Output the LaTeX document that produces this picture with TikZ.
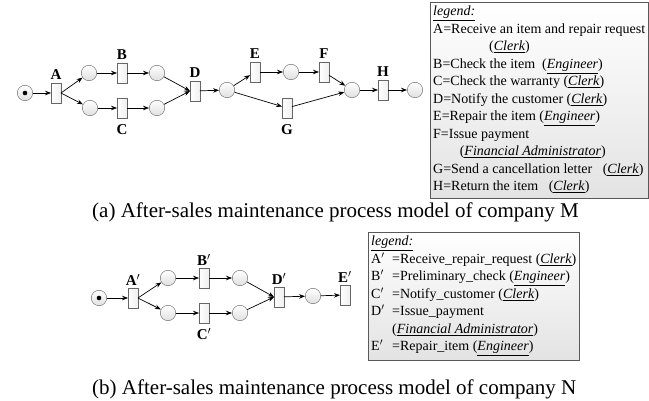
\documentclass[tikz,border=0pt]{standalone}
\usepackage{fontspec}
\setmainfont{Liberation Serif}
\usetikzlibrary{positioning,arrows.meta,shadows}
\newcommand{\role}[1]{\underline{\textit{#1}}}
\begin{document}
\begin{tikzpicture}[x=1pt,y=-1pt,
  place/.style={draw=gray!80!black, circle, minimum size=15.5pt, inner sep=0pt, top color=white, bottom color=gray!25},
  start/.style={place, path picture={\fill (path picture bounding box.center) circle (2.3pt);}},
  trans/.style={draw=gray!80!black, rectangle, minimum width=9.5pt, minimum height=19.5pt, inner sep=0pt, left color=white, right color=gray!12},
  lab/.style={font=\fontsize{15}{15}\selectfont\bfseries, inner sep=0pt},
  arc/.style={-{Stealth[length=6pt,width=4.5pt]}, line width=0.7pt},
  legendbox/.style={draw=gray!70!black, align=left, inner xsep=3pt, inner ysep=4pt, top color=white, bottom color=gray!22, drop shadow={shadow xshift=1pt, shadow yshift=-1pt, opacity=0.6}, font=\fontsize{14}{17.5}\selectfont},
  capt/.style={font=\fontsize{21}{21}\selectfont, inner sep=0pt, anchor=base west}]
\useasboundingbox (0,0) rectangle (649,401);

% company M
\node[start] (m0) at (25,93) {};
\node[trans] (mA) at (56,93) {};
\node[place] (mp1) at (89,73) {};
\node[trans] (mB) at (122,73) {};
\node[place] (mp2) at (157,73) {};
\node[place] (mp3) at (90,108) {};
\node[trans] (mC) at (122,108) {};
\node[place] (mp4) at (157,108) {};
\node[trans] (mD) at (195,91) {};
\node[place] (mp5) at (227,90) {};
\node[trans] (mE) at (255,72) {};
\node[place] (mp6) at (291,72) {};
\node[trans] (mF) at (324,72) {};
\node[trans] (mG) at (287,108) {};
\node[place] (mp7) at (352,90) {};
\node[trans] (mH) at (383,90) {};
\node[place] (mp8) at (415,90) {};

\node[lab, above=3pt of mA] (lmA) {A};
\node[lab, above=3pt of mB] (lmB) {B};
\node[lab, below=6pt of mC] (lmC) {C};
\node[lab, above=3pt of mD] (lmD) {D};
\node[lab, above=3pt of mE] (lmE) {E};
\node[lab, above=3pt of mF] (lmF) {F};
\node[lab, below=6pt of mG] (lmG) {G};
\node[lab, above=3pt of mH] (lmH) {H};

\draw[arc] (m0) -- (mA);
\draw[arc] (mA.east) -- (mp1);
\draw[arc] (mA.east) -- (mp3);
\draw[arc] (mp1) -- (mB);
\draw[arc] (mB) -- (mp2);
\draw[arc] (mp3) -- (mC);
\draw[arc] (mC) -- (mp4);
\draw[arc] (mp2) -- (mD.west);
\draw[arc] (mp4) -- (mD.west);
\draw[arc] (mD) -- (mp5);
\draw[arc] (mp5) -- (mE);
\draw[arc] (mE) -- (mp6);
\draw[arc] (mp6) -- (mF);
\draw[arc] (mF) -- (mp7);
\draw[arc] (mp5) -- (mG);
\draw[arc] (mG) -- (mp7);
\draw[arc] (mp7) -- (mH);
\draw[arc] (mH) -- (mp8);

\node[legendbox, anchor=north west] (legm) at (430,2) {\role{legend:}\\
A=Receive an item and repair request\\
\hspace*{4em}(\role{Clerk})\\
B=Check the item~ (\role{Engineer})\\
C=Check the warranty (\role{Clerk})\\
D=Notify the customer (\role{Clerk})\\
E=Repair the item (\role{Engineer})\\
F=Issue payment\\
\hspace*{1.9em}(\role{Financial Administrator})\\
G=Send a cancellation letter~~ (\role{Clerk})\\
H=Return the item~~ (\role{Clerk})};

\node[capt] (capm) at (92,218) {(a) After-sales maintenance process model of company M};

% company N
\node[start] (n0) at (99,298) {};
\node[trans] (nA) at (133,298) {};
\node[place] (np1) at (168,278) {};
\node[trans] (nB) at (204,278) {};
\node[place] (np2) at (240,278) {};
\node[place] (np3) at (168,313) {};
\node[trans] (nC) at (204,313) {};
\node[place] (np4) at (240,313) {};
\node[trans] (nD) at (279,297) {};
\node[place] (np5) at (313,296) {};
\node[trans] (nE) at (345,295) {};

\node[lab, above=2pt of nA] (lnA) {A$'$};
\node[lab, above=2pt of nB] (lnB) {B$'$};
\node[lab, below=5pt of nC] (lnC) {C$'$};
\node[lab, above=2pt of nD] (lnD) {D$'$};
\node[lab, above=2pt of nE] (lnE) {E$'$};

\draw[arc] (n0) -- (nA);
\draw[arc] (nA.east) -- (np1);
\draw[arc] (nA.east) -- (np3);
\draw[arc] (np1) -- (nB);
\draw[arc] (nB) -- (np2);
\draw[arc] (np3) -- (nC);
\draw[arc] (nC) -- (np4);
\draw[arc] (np2) -- (nD.west);
\draw[arc] (np4) -- (nD.west);
\draw[arc] (nD) -- (np5);
\draw[arc] (np5) -- (nE);

\node[legendbox, anchor=north west] (legn) at (368,232) {\role{legend:}\\
\makebox[21pt][l]{A$'$}=Receive\_repair\_request (\role{Clerk})\\
\makebox[21pt][l]{B$'$}=Preliminary\_check (\role{Engineer})\\
\makebox[21pt][l]{C$'$}=Notify\_customer (\role{Clerk})\\
\makebox[21pt][l]{D$'$}=Issue\_payment\\
\hspace*{21pt}(\role{Financial Administrator})\\
\makebox[21pt][l]{E$'$}=Repair\_item (\role{Engineer})};

\node[capt] (capn) at (92,395) {(b) After-sales maintenance process model of company N};
\end{tikzpicture}
\end{document}
